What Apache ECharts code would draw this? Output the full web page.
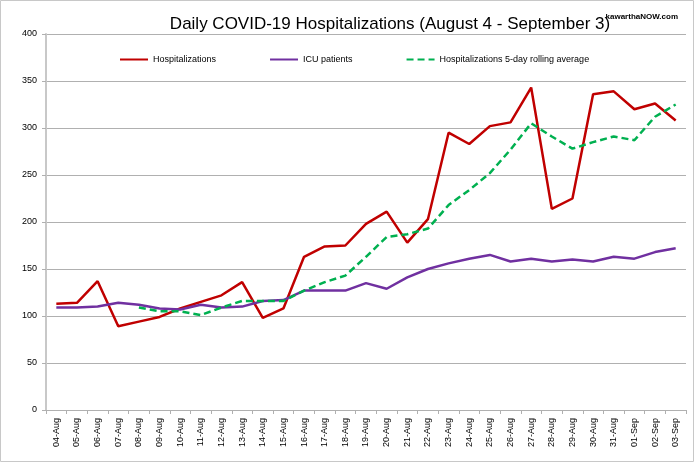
<!DOCTYPE html>
<html>
<head>
<meta charset="utf-8">
<script src="https://cdn.jsdelivr.net/npm/echarts@6/dist/echarts.min.js"></script>
<style>
html,body{margin:0;padding:0;background:#fff;}
#c{width:696px;height:464px;}
</style>
</head>
<body>
<div id="c"></div>
<script>
const categories = ['04-Aug','05-Aug','06-Aug','07-Aug','08-Aug','09-Aug','10-Aug','11-Aug','12-Aug','13-Aug','14-Aug','15-Aug','16-Aug','17-Aug','18-Aug','19-Aug','20-Aug','21-Aug','22-Aug','23-Aug','24-Aug','25-Aug','26-Aug','27-Aug','28-Aug','29-Aug','30-Aug','31-Aug','01-Sep','02-Sep','03-Sep'];
const hospitalizations = [113,114,137,89,94,99,108,115,122,136,98,108,163,174,175,198,211,178,203,295,283,302,306,343,214,225,336,339,320,326,308];
const icuPatients = [109,109,110,114,112,108,107,112,109,110,116,117,127,127,127,135,129,141,150,156,161,165,158,161,158,160,158,163,161,168,172];
const rollingAverage = [null,null,null,null,109,105,105,101,109,116,116,116,127,136,143,163,184,187,193,218,234,252,277,305,291,278,285,291,287,312,325];
const yTicks = [0,50,100,150,200,250,300,350,400];

const FONT = '"Liberation Sans",Arial,sans-serif';
const chart = echarts.init(document.getElementById('c'), null, {renderer:'canvas'});
chart.setOption({
  backgroundColor:'#fff',
  animation:false,
  graphic:[{
    type:'rect', shape:{x:0.5,y:0.5,width:693,height:461},
    style:{fill:'none',stroke:'#c8c8c8',lineWidth:1}, silent:true
  }],
  title:[{
    text:'Daily COVID-19 Hospitalizations (August 4 - September 3)',
    left:385, top:11, textAlign:'center',
    textStyle:{fontFamily:FONT,fontSize:17,fontWeight:'normal',color:'#000'}
  },{
    text:'kawarthaNOW.com',
    right:13, top:8,
    textStyle:{fontFamily:FONT,fontSize:8,fontWeight:'bold',color:'#000'}
  }],
  legend:{
    top:50, left:114, itemGap:53, itemWidth:28, itemHeight:10,
    textStyle:{fontFamily:FONT,fontSize:9,color:'#000'},
    itemStyle:{opacity:0},
    data:['Hospitalizations','ICU patients','Hospitalizations 5-day rolling average']
  },
  grid:{left:46,right:10,top:34,bottom:54,containLabel:false},
  xAxis:{
    type:'category', data:categories, boundaryGap:true,
    axisLine:{lineStyle:{color:'#b0b0b0',width:1}},
    axisTick:{show:true,length:4,lineStyle:{color:'#b0b0b0'}},
    axisLabel:{rotate:90,interval:0,fontFamily:FONT,fontSize:9,color:'#000',margin:8}
  },
  yAxis:{
    type:'value', min:yTicks[0], max:yTicks[yTicks.length-1], interval:50,
    axisLine:{show:true,lineStyle:{color:'#c8c8c8',width:2}},
    axisTick:{show:true,length:4,lineStyle:{color:'#b0b0b0'}},
    axisLabel:{fontFamily:FONT,fontSize:9,color:'#000',margin:9},
    splitLine:{lineStyle:{color:'#b0b0b0',width:1}}
  },
  series:[
    {name:'Hospitalizations',type:'line',data:hospitalizations,symbol:'none',
     color:'#C00000',lineStyle:{color:'#C00000',width:2.5}},
    {name:'ICU patients',type:'line',data:icuPatients,symbol:'none',
     color:'#7030A0',lineStyle:{color:'#7030A0',width:2.5}},
    {name:'Hospitalizations 5-day rolling average',type:'line',data:rollingAverage,symbol:'none',
     color:'#00B050',lineStyle:{color:'#00B050',width:2.5,type:[7,4]}}
  ]
});
</script>
</body>
</html>
